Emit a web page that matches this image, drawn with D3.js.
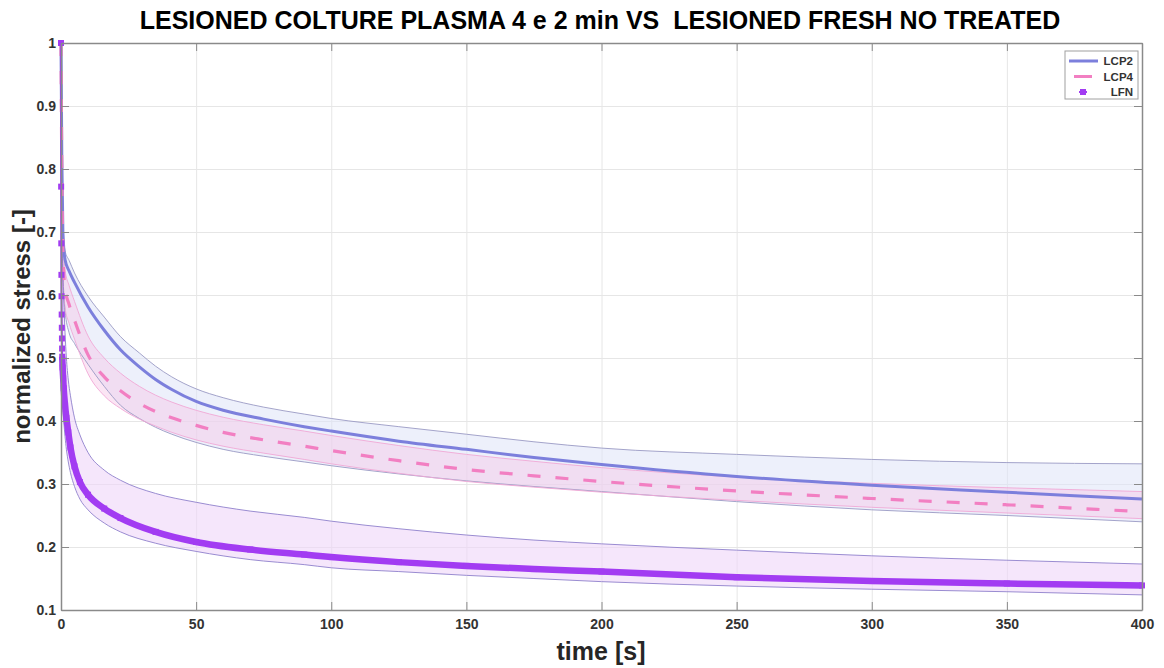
<!DOCTYPE html>
<html>
<head>
<meta charset="utf-8">
<script src="https://cdn.jsdelivr.net/npm/d3@7"></script>
<style>
  body { margin: 0; background: #fff; }
  svg { display: block; font-family: "Liberation Sans", Arial, sans-serif; }
</style>
</head>
<body>
<div id="chart"></div>
<script>
// time samples (s) and normalized stress
const lcpTimes = [0, 0.3, 0.7, 1.5, 3, 5, 10, 16, 22, 29, 35, 41, 50, 60, 75, 90, 100, 125, 150, 175, 200, 250, 300, 350, 400];

const lcp2Mean  = [1.0, 0.82, 0.70, 0.656, 0.638, 0.62, 0.581, 0.544, 0.513, 0.486, 0.466, 0.45, 0.431, 0.417, 0.403, 0.391, 0.384, 0.368, 0.355, 0.342, 0.331, 0.312, 0.298, 0.287, 0.276];
const lcp2Upper = [1.0, 0.84, 0.72, 0.67, 0.655, 0.635, 0.598, 0.565, 0.534, 0.508, 0.487, 0.47, 0.451, 0.437, 0.422, 0.411, 0.404, 0.391, 0.379, 0.367, 0.357, 0.347, 0.339, 0.334, 0.332];
const lcp2Lower = [1.0, 0.78, 0.64, 0.575, 0.54, 0.523, 0.49, 0.455, 0.425, 0.404, 0.39, 0.379, 0.366, 0.355, 0.344, 0.335, 0.329, 0.316, 0.305, 0.296, 0.288, 0.272, 0.259, 0.25, 0.24];

const lcp4Mean  = [1.0, 0.8, 0.67, 0.61, 0.585, 0.56, 0.505, 0.47, 0.448, 0.428, 0.415, 0.405, 0.393, 0.382, 0.37, 0.36, 0.353, 0.337, 0.323, 0.313, 0.304, 0.289, 0.277, 0.267, 0.256];
const lcp4Upper = [1.0, 0.83, 0.70, 0.64, 0.615, 0.59, 0.535, 0.5, 0.476, 0.455, 0.441, 0.43, 0.417, 0.406, 0.394, 0.384, 0.377, 0.361, 0.347, 0.336, 0.326, 0.311, 0.301, 0.294, 0.288];
const lcp4Lower = [1.0, 0.77, 0.64, 0.58, 0.555, 0.53, 0.475, 0.44, 0.42, 0.403, 0.392, 0.382, 0.37, 0.36, 0.349, 0.339, 0.332, 0.317, 0.304, 0.295, 0.287, 0.274, 0.263, 0.254, 0.245];

const lfnTimes = [0, 0.05, 0.1, 0.15, 0.2, 0.25, 0.3, 0.35, 0.4, 0.45, 0.6, 0.8, 1, 1.5, 2, 2.7, 3.5, 5, 7, 10, 16, 22, 35, 50, 70, 90, 100, 125, 150, 175, 200, 250, 300, 350, 400];
const lfnMean  = [1.0, 0.772, 0.682, 0.632, 0.598, 0.569, 0.548, 0.531, 0.515, 0.502, 0.485, 0.468, 0.452, 0.425, 0.405, 0.382, 0.358, 0.328, 0.303, 0.283, 0.261, 0.246, 0.224, 0.208, 0.196, 0.188, 0.184, 0.176, 0.17, 0.165, 0.161, 0.152, 0.146, 0.142, 0.139];
const lfnUpper = [1.0, 0.92, 0.86, 0.82, 0.79, 0.76, 0.74, 0.72, 0.70, 0.685, 0.65, 0.62, 0.595, 0.54, 0.5, 0.465, 0.44, 0.405, 0.378, 0.35, 0.322, 0.306, 0.285, 0.271, 0.257, 0.247, 0.241, 0.229, 0.219, 0.211, 0.205, 0.195, 0.186, 0.179, 0.173];
const lfnLower = [1.0, 0.7, 0.6, 0.55, 0.52, 0.495, 0.48, 0.465, 0.452, 0.44, 0.425, 0.41, 0.4, 0.375, 0.355, 0.335, 0.318, 0.296, 0.276, 0.259, 0.238, 0.224, 0.206, 0.193, 0.18, 0.172, 0.167, 0.161, 0.155, 0.15, 0.145, 0.138, 0.133, 0.129, 0.124];

const xTicks = [0, 50, 100, 150, 200, 250, 300, 350, 400];
const yTicks = [0.1, 0.2, 0.3, 0.4, 0.5, 0.6, 0.7, 0.8, 0.9, 1];
const legendNames = ['LCP2', 'LCP4', 'LFN'];

const width = 1164;
const height = 668;
const margin = { top: 43, right: 22, bottom: 58, left: 61 };
const plotW = width - margin.left - margin.right;
const plotH = height - margin.top - margin.bottom;

const svg = d3.select('#chart').append('svg')
  .attr('width', width)
  .attr('height', height);

const xScale = d3.scaleLinear().domain([0, 400]).range([margin.left, margin.left + plotW]);
const yScale = d3.scaleLinear().domain([0.1, 1]).range([margin.top + plotH, margin.top]);

// gridlines
svg.append('g')
  .attr('transform', `translate(0, ${margin.top + plotH})`)
  .call(d3.axisBottom(xScale).tickValues(xTicks).tickFormat('').tickSize(-plotH))
  .call(g => g.select('.domain').remove())
  .call(g => g.selectAll('line').attr('stroke', '#e6e6e6'));
svg.append('g')
  .attr('transform', `translate(${margin.left}, 0)`)
  .call(d3.axisLeft(yScale).tickValues(yTicks).tickFormat('').tickSize(-plotW))
  .call(g => g.select('.domain').remove())
  .call(g => g.selectAll('line').attr('stroke', '#e6e6e6'));

function zip(times, vals) { return times.map((t, i) => [t, vals[i]]); }

const band = (times, lo, hi) => d3.area()
  .x((d, i) => xScale(times[i]))
  .y0((d, i) => yScale(lo[i]))
  .y1((d, i) => yScale(hi[i]))
  .curve(d3.curveMonotoneX)(times);

const line = d3.line()
  .x(d => xScale(d[0]))
  .y(d => yScale(d[1]))
  .curve(d3.curveMonotoneX);

const plot = svg.append('g');

// shaded bands
plot.append('path').attr('d', band(lcpTimes, lcp2Lower, lcp2Upper))
  .attr('fill', '#dfe4f7').attr('fill-opacity', 0.55);
plot.append('path').attr('d', band(lcpTimes, lcp4Lower, lcp4Upper))
  .attr('fill', '#f7c6e6').attr('fill-opacity', 0.45);
plot.append('path').attr('d', band(lfnTimes, lfnLower, lfnUpper))
  .attr('fill', '#efd6f8').attr('fill-opacity', 0.6);

// band edges
[[lcpTimes, lcp2Upper, '#9a9ac4'], [lcpTimes, lcp2Lower, '#9a9ac4'],
 [lcpTimes, lcp4Upper, '#f0a8d6'], [lcpTimes, lcp4Lower, '#f0a8d6'],
 [lfnTimes, lfnUpper, '#8f80cc'], [lfnTimes, lfnLower, '#8f80cc']].forEach(([t, v, c]) => {
  plot.append('path').attr('d', line(zip(t, v)))
    .attr('fill', 'none').attr('stroke', c).attr('stroke-width', 0.9);
});

// mean curves
plot.append('path').attr('d', line(zip(lcpTimes, lcp2Mean)))
  .attr('fill', 'none').attr('stroke', '#7c7fdc').attr('stroke-width', 3);
plot.append('path').attr('d', line(zip(lcpTimes, lcp4Mean)))
  .attr('fill', 'none').attr('stroke', '#f27fc2').attr('stroke-width', 3.2)
  .attr('stroke-dasharray', '13,15');

// LFN: thin joining line, dense markers form a thick trace after the first drop
const lfnPts = zip(lfnTimes, lfnMean);
plot.append('path').attr('d', line(lfnPts))
  .attr('fill', 'none').attr('stroke', '#a23cf2').attr('stroke-width', 1.8);
plot.append('path').attr('d', line(lfnPts.filter(d => d[0] >= 0.45)))
  .attr('fill', 'none').attr('stroke', '#a23cf2').attr('stroke-width', 6.5);
plot.append('g').selectAll('rect')
  .data(lfnPts)
  .join('rect')
  .attr('x', d => xScale(d[0]) - 3)
  .attr('y', d => yScale(d[1]) - 3)
  .attr('width', 6).attr('height', 6)
  .attr('fill', '#a23cf2');

// axes (box with inward ticks)
const axisColor = '#8a8a8a';
function styleAxis(g) {
  g.select('.domain').attr('stroke', axisColor).attr('stroke-width', 1.5);
  g.selectAll('.tick line').attr('stroke', axisColor);
  g.selectAll('text').attr('fill', '#333').attr('font-weight', 'bold').attr('font-size', 14);
}
svg.append('g')
  .attr('transform', `translate(0, ${margin.top + plotH})`)
  .call(d3.axisBottom(xScale).tickValues(xTicks).tickSizeInner(-8).tickSizeOuter(0).tickPadding(9))
  .call(styleAxis);
svg.append('g')
  .attr('transform', `translate(0, ${margin.top})`)
  .call(d3.axisTop(xScale).tickValues(xTicks).tickFormat('').tickSizeInner(-8).tickSizeOuter(0))
  .call(styleAxis);
svg.append('g')
  .attr('transform', `translate(${margin.left}, 0)`)
  .call(d3.axisLeft(yScale).tickValues(yTicks).tickFormat(d => d === 1 ? '1' : d.toFixed(1))
    .tickSizeInner(-8).tickSizeOuter(0).tickPadding(5))
  .call(styleAxis);
svg.append('g')
  .attr('transform', `translate(${margin.left + plotW}, 0)`)
  .call(d3.axisRight(yScale).tickValues(yTicks).tickFormat('').tickSizeInner(-8).tickSizeOuter(0))
  .call(styleAxis);

// titles
svg.append('text')
  .attr('x', 600).attr('y', 29)
  .attr('text-anchor', 'middle')
  .attr('font-size', 25).attr('font-weight', 'bold').attr('fill', '#000')
  .attr('xml:space', 'preserve')
  .text('LESIONED COLTURE PLASMA 4 e 2 min VS  LESIONED FRESH NO TREATED');
svg.append('text')
  .attr('x', 601).attr('y', 660)
  .attr('text-anchor', 'middle')
  .attr('font-size', 25).attr('font-weight', 'bold').attr('fill', '#262626')
  .text('time [s]');
svg.append('text')
  .attr('transform', `translate(30, ${margin.top + plotH / 2}) rotate(-90)`)
  .attr('text-anchor', 'middle')
  .attr('font-size', 24).attr('font-weight', 'bold').attr('fill', '#262626')
  .text('normalized stress [-]');

// legend
const legend = svg.append('g').attr('transform', 'translate(1065, 51)');
legend.append('rect')
  .attr('width', 73).attr('height', 48)
  .attr('fill', '#fff').attr('stroke', '#a0a0a0').attr('stroke-width', 1);
const rowY = [10, 25.5, 41];
legend.append('line').attr('x1', 4).attr('x2', 33).attr('y1', rowY[0]).attr('y2', rowY[0])
  .attr('stroke', '#7c7fdc').attr('stroke-width', 3);
legend.append('line').attr('x1', 9).attr('x2', 27).attr('y1', rowY[1]).attr('y2', rowY[1])
  .attr('stroke', '#f27fc2').attr('stroke-width', 3);
legend.append('line').attr('x1', 14).attr('x2', 22).attr('y1', rowY[2]).attr('y2', rowY[2])
  .attr('stroke', '#a23cf2').attr('stroke-width', 2);
legend.append('rect').attr('x', 15).attr('y', rowY[2] - 3).attr('width', 6).attr('height', 6)
  .attr('fill', '#a23cf2');
legend.selectAll('text.lbl')
  .data(legendNames)
  .join('text')
  .attr('class', 'lbl')
  .attr('x', 68).attr('y', (d, i) => rowY[i] + 4)
  .attr('text-anchor', 'end')
  .attr('font-size', 11.5).attr('font-weight', 'bold').attr('fill', '#333')
  .text(d => d);
</script>
</body>
</html>
